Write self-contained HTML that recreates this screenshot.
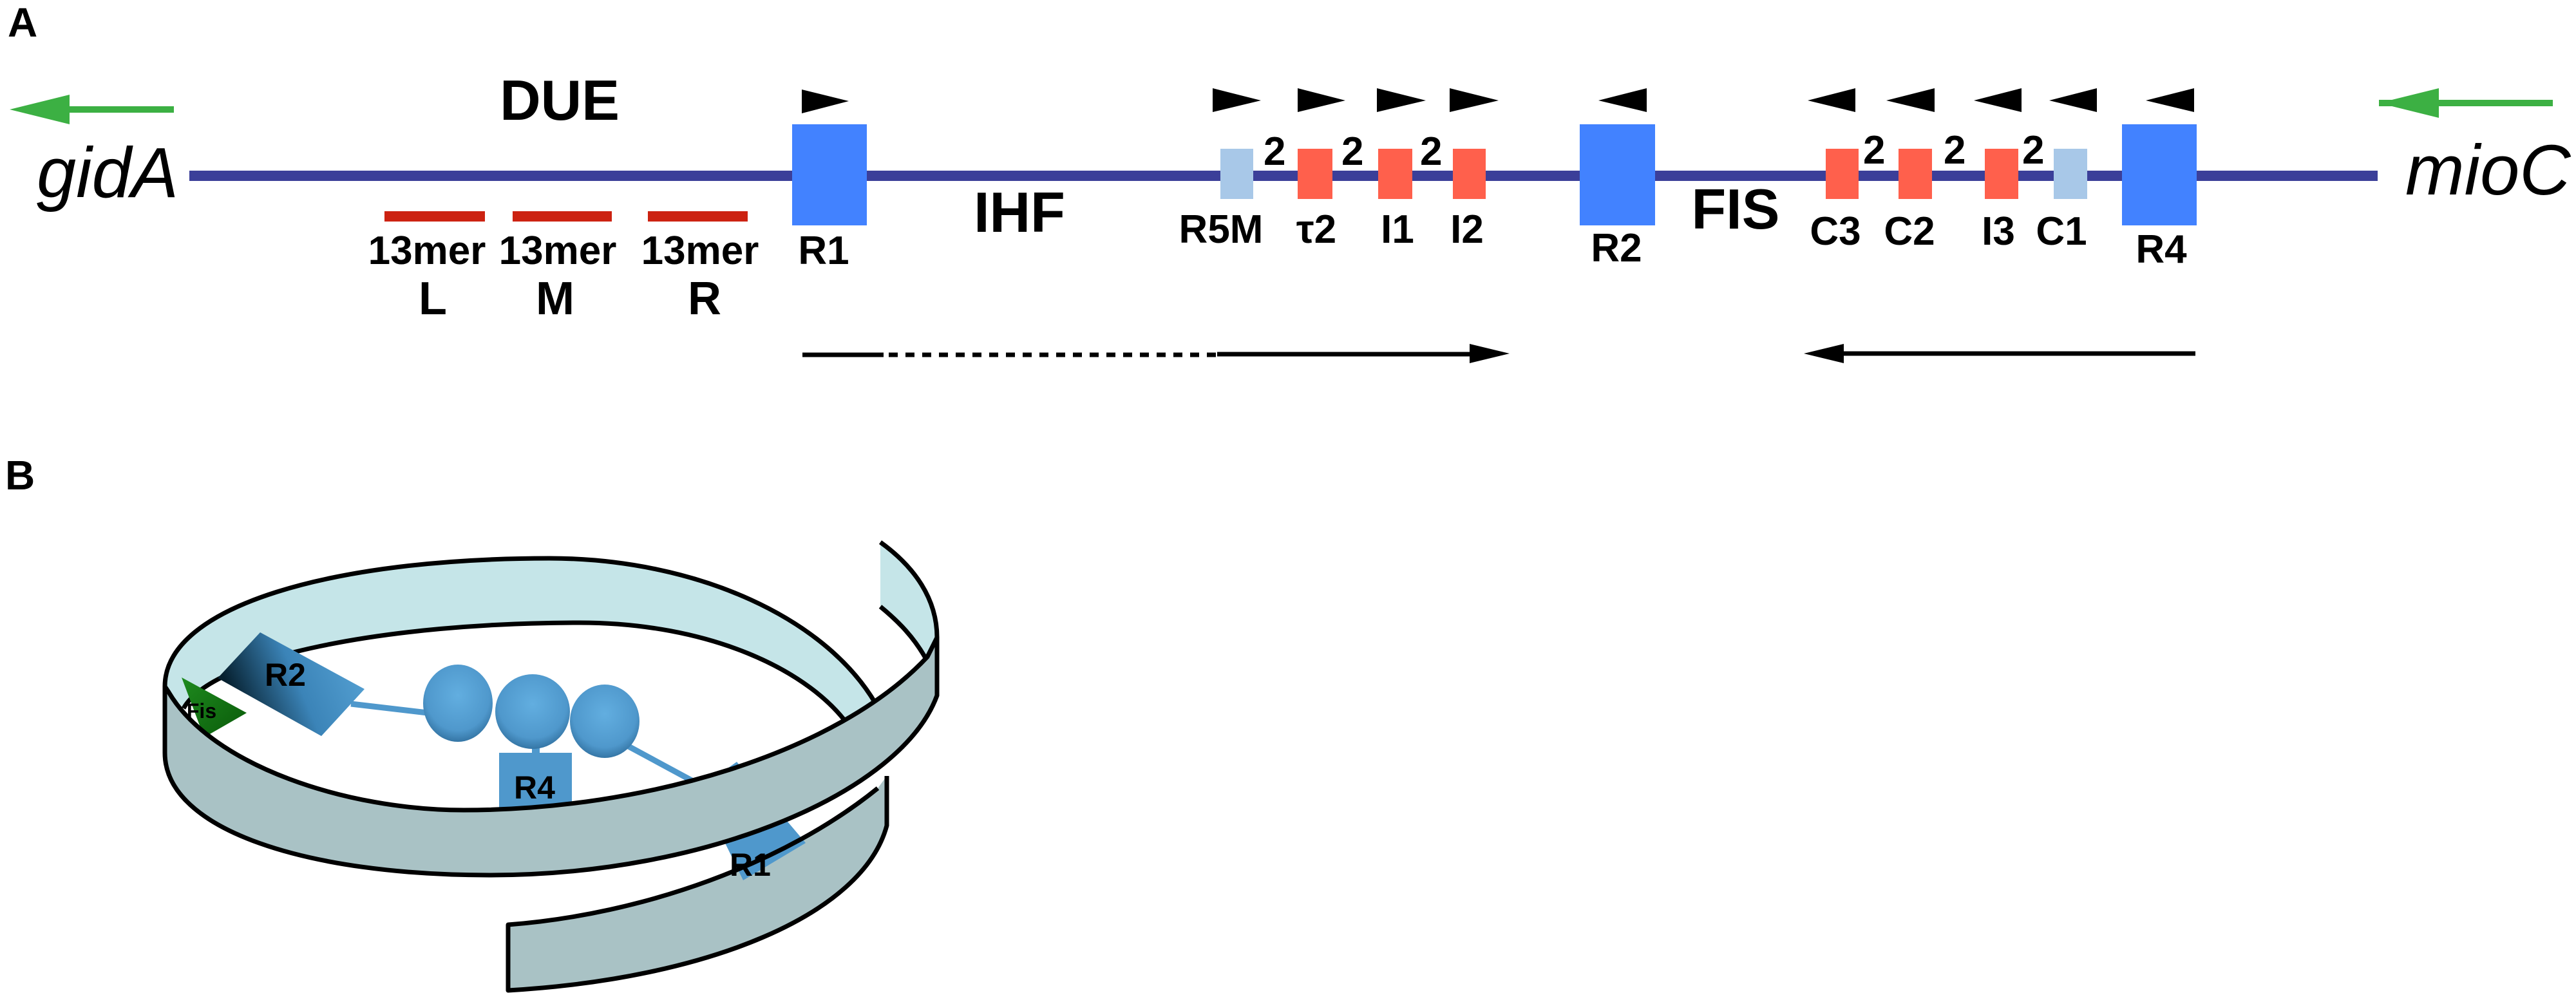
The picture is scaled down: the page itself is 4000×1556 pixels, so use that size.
<!DOCTYPE html>
<html><head><meta charset="utf-8"><style>
html,body{margin:0;padding:0;background:#fff;}
#wrap{position:relative;width:4000px;height:1556px;overflow:hidden;font-family:"Liberation Sans",sans-serif;}
svg{position:absolute;left:0;top:0;}
</style></head><body><div id="wrap">
<svg width="4000" height="1556" viewBox="0 0 4000 1556" font-family="Liberation Sans, sans-serif" font-weight="bold">
<defs>
<linearGradient id="bg1" x1="0" y1="0.3" x2="1" y2="0"><stop offset="0" stop-color="#06202f"/><stop offset="0.45" stop-color="#3b84b8"/><stop offset="1" stop-color="#5aa6d8"/></linearGradient>
<radialGradient id="sp" cx="0.5" cy="0.4" r="0.65"><stop offset="0" stop-color="#62aee0"/><stop offset="0.7" stop-color="#4f98cc"/><stop offset="1" stop-color="#2c6a98"/></radialGradient>
<linearGradient id="gr" x1="0" y1="0" x2="1" y2="1"><stop offset="0" stop-color="#1e8a1e"/><stop offset="1" stop-color="#0a5a0a"/></linearGradient>
</defs>
<text x="12" y="57" font-size="64">A</text>
<text x="8" y="760" font-size="64">B</text>
<!-- green arrows -->
<rect x="100" y="165" width="170" height="10" fill="#3CB043"/>
<polygon points="15,170 108,147 108,193" fill="#3CB043"/>
<rect x="3694" y="155" width="270" height="10" fill="#3CB043"/>
<polygon points="3694,160 3787,137 3787,183" fill="#3CB043"/>
<!-- main line -->
<rect x="294" y="265" width="3398" height="16" fill="#3B3F99"/>
<text x="57" y="306" font-size="110" font-style="italic" font-weight="normal">gidA</text>
<text x="3735" y="302" font-size="110" font-style="italic" font-weight="normal">mioC</text>
<text x="869" y="186" font-size="88" text-anchor="middle">DUE</text>
<text x="1583" y="360" font-size="88" text-anchor="middle">IHF</text>
<text x="2695" y="355" font-size="88" text-anchor="middle">FIS</text>
<g fill="#CC2211"><rect x="597" y="328" width="156" height="16"/><rect x="796" y="328" width="154" height="16"/><rect x="1006" y="328" width="155" height="16"/></g>
<g font-size="62" text-anchor="middle">
<text x="663" y="410">13mer</text><text x="866" y="410">13mer</text><text x="1087" y="410">13mer</text>
<text x="672" y="488" font-size="72">L</text><text x="862" y="488" font-size="72">M</text><text x="1094" y="488" font-size="72">R</text>
<text x="1279" y="410">R1</text><text x="1896" y="377">R5M</text>
<text x="2044" y="377">τ2</text><text x="2170" y="377">I1</text><text x="2278" y="377">I2</text>
<text x="2510" y="406">R2</text>
<text x="2850" y="380">C3</text><text x="2965" y="380">C2</text><text x="3103" y="380">I3</text><text x="3201" y="380">C1</text>
<text x="3356" y="408">R4</text>
</g>
<g font-size="62"><text x="1962" y="256">2</text><text x="2083" y="256">2</text><text x="2205" y="256">2</text><text x="2893" y="254">2</text><text x="3018" y="254">2</text><text x="3140" y="254">2</text></g>
<g fill="#4282FF"><rect x="1230" y="193" width="116" height="157"/><rect x="2453" y="193" width="117" height="157"/><rect x="3295" y="193" width="116" height="157"/></g>
<g fill="#A8C8E8"><rect x="1895" y="231" width="51" height="78"/><rect x="3189" y="231" width="52" height="78"/></g>
<g fill="#FF604C"><rect x="2015" y="231" width="54" height="78"/><rect x="2140" y="231" width="53" height="78"/><rect x="2256" y="231" width="51" height="78"/><rect x="2835" y="231" width="51" height="78"/><rect x="2948" y="231" width="52" height="78"/><rect x="3082" y="231" width="52" height="78"/></g>
<g fill="#000">
<polygon points="1245,139 1318,157 1245,176"/><polygon points="1883,137 1958,156 1883,174"/>
<polygon points="2015,137 2089,156 2015,174"/><polygon points="2138,137 2214,156 2138,174"/><polygon points="2251,137 2327,156 2251,174"/>
<polygon points="2557,137 2482,156 2557,174"/><polygon points="2881,137 2807,156 2881,174"/><polygon points="3004,137 2929,156 3004,174"/>
<polygon points="3139,137 3065,156 3139,174"/><polygon points="3256,137 3182,156 3256,174"/><polygon points="3407,137 3332,156 3407,174"/>
</g>
<line x1="1246" y1="551" x2="1372" y2="551" stroke="#000" stroke-width="7"/>
<line x1="1380" y1="551" x2="1890" y2="551" stroke="#000" stroke-width="7" stroke-dasharray="14,12"/>
<line x1="1890" y1="550" x2="2300" y2="550" stroke="#000" stroke-width="7"/>
<polygon points="2282,534 2344,549 2282,564" fill="#000"/>
<line x1="2850" y1="549" x2="3409" y2="549" stroke="#000" stroke-width="7"/>
<polygon points="2863,534 2801,549 2863,564" fill="#000"/>

<!-- ===== Panel B ===== -->
<g stroke="#000" stroke-width="7" stroke-linejoin="round">
<!-- upper right piece -->
<path d="M1367,842 C1420,880 1455,930 1455,990 L1455,1080 L1440,1027 C1420,990 1395,965 1367,942 Z" fill="#C5E5E8" stroke="none"/>
<path d="M1367,842 C1420,880 1455,930 1455,990 L1455,1080" fill="none"/>
<path d="M1367,942 C1395,965 1420,990 1440,1027" fill="none"/>
<!-- back band -->
<path d="M256,1066 C256,940 520,867 853,867 C1080,867 1290,960 1366,1104 L1322,1133 C1260,1040 1100,967 900,967 C600,967 330,1020 285,1100 Z" fill="#C5E5E8" stroke="none"/>
<path d="M256,1066 C256,940 520,867 853,867 C1080,867 1290,960 1366,1104" fill="none"/>
<path d="M285,1100 C330,1020 600,967 900,967 C1100,967 1260,1040 1322,1133" fill="none"/>
</g>
<!-- objects -->
<polygon points="282,1052 383,1107 317,1145" fill="url(#gr)"/>
<line x1="545" y1="1093" x2="664" y2="1107" stroke="#4f98cc" stroke-width="9"/>
<polygon points="338,1053 404,982 566,1070 499,1143" fill="url(#bg1)"/>
<line x1="976" y1="1159" x2="1100" y2="1226" stroke="#4f98cc" stroke-width="9"/>
<rect x="826" y="1150" width="12" height="25" fill="#4f98cc"/>
<rect x="775" y="1169" width="113" height="90" fill="#4f98cc"/>
<ellipse cx="711" cy="1092" rx="54" ry="60" fill="url(#sp)"/>
<ellipse cx="827" cy="1105" rx="58" ry="58" fill="url(#sp)"/>
<ellipse cx="939" cy="1120" rx="54" ry="57" fill="url(#sp)"/>
<g stroke="#000" stroke-width="7" stroke-linejoin="round">
<!-- lower band -->
<path d="M1377,1205 L1377,1282 C1340,1420 1100,1520 789,1538 L789,1436 C1000,1420 1220,1340 1363,1224 Z" fill="#A9C2C5" stroke="none"/>
<polygon points="1085,1225 1144,1183 1251,1309 1154,1367" fill="#4f98cc" stroke="none"/>
<path d="M1377,1205 L1377,1282 C1340,1420 1100,1520 789,1538 L789,1436 C1000,1420 1220,1340 1363,1224" fill="none"/>
<!-- front band -->
<path d="M256,1066 L262,1075 C330,1190 540,1258 720,1258 C1000,1258 1300,1170 1440,1020 L1455,990 L1455,1080 C1400,1230 1100,1359 760,1359 C480,1359 256,1290 256,1169 Z" fill="#A9C2C5"/>
</g>
<text x="443" y="1065" font-size="50" text-anchor="middle">R2</text>
<text x="830" y="1240" font-size="50" text-anchor="middle">R4</text>
<text x="1165" y="1360" font-size="50" text-anchor="middle">R1</text>
<text x="313" y="1115" font-size="32" text-anchor="middle">Fis</text>
</svg>
</div></body></html>
